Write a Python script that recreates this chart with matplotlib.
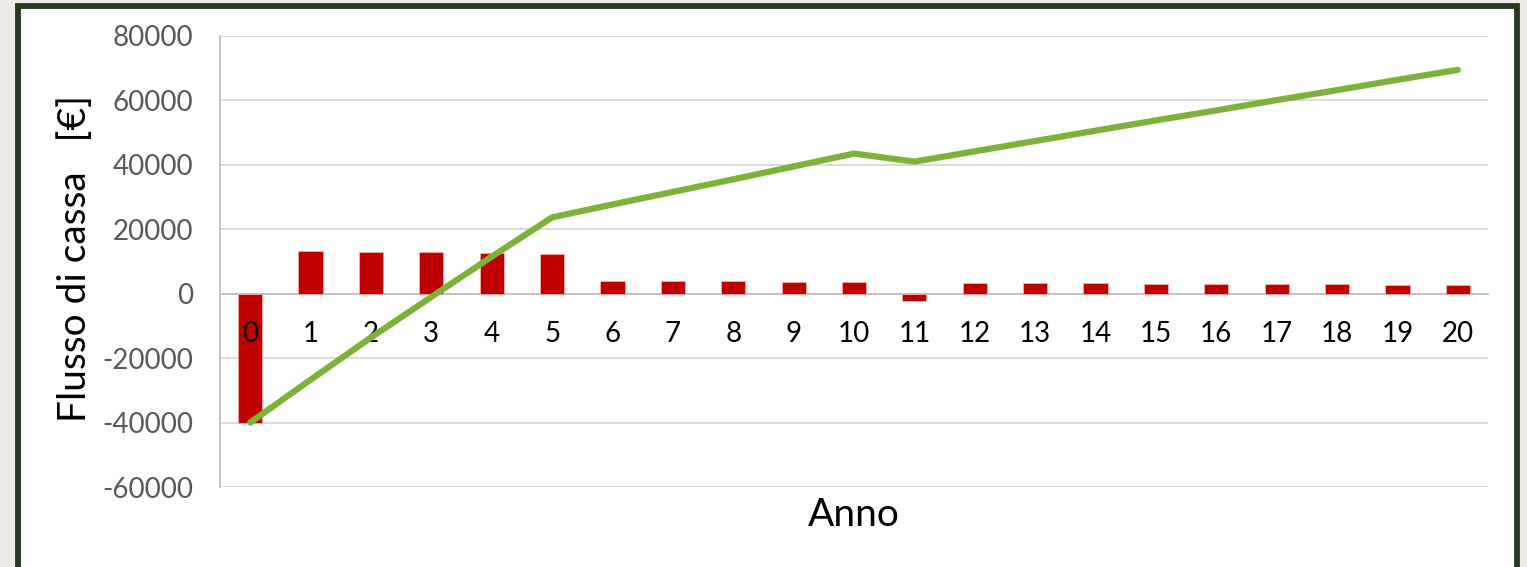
import numpy as np
import matplotlib.pyplot as plt
from matplotlib.patches import Rectangle

# Annual cash flow and cumulative cash flow (EUR)
anni = list(range(21))
flusso_annuo = [-40000, 13400, 13100, 12800, 12500, 12200, 4100, 4000, 3800, 3700,
                3600, -2400, 3400, 3300, 3200, 3100, 3000, 3000, 2900, 2800, 2700]
flusso_cumulato = [-40000, -26700, -13600, -1000, 11500, 23700, 27700, 31600, 35500,
                   39500, 43500, 41000, 44200, 47400, 50600, 53800, 56900, 60100,
                   63200, 66400, 69500]
yticks = [-60000, -40000, -20000, 0, 20000, 40000, 60000, 80000]

plt.rcParams['font.family'] = ['Lato', 'DejaVu Sans']

W, H = 1527, 567
fig = plt.figure(figsize=(W / 100, H / 100), dpi=100)
fig.patch.set_facecolor('#EEEBE9')

# white card with dark green border, behind the chart
bg = fig.add_axes([0, 0, 1, 1], zorder=-1)
bg.set_xlim(0, W)
bg.set_ylim(H, 0)
bg.axis('off')
bg.add_patch(Rectangle((18, 6), 1499, H + 20, facecolor='white',
                       edgecolor='#253A21', linewidth=4.2))

ax = fig.add_axes([220 / W, 1 - 487 / H, 1268 / W, 451 / H], zorder=1)
ax.set_facecolor('none')

ax.bar(anni, flusso_annuo, width=0.4, color='#C00000', edgecolor='#F0B0B0',
       linewidth=0.6, zorder=3)
ax.plot(anni, flusso_cumulato, color='#7DB23A', linewidth=4.5,
        solid_capstyle='round', solid_joinstyle='round', zorder=4)

ax.set_xlim(-0.5, 20.5)
ax.set_ylim(-60000, 80000)
ax.set_yticks(yticks)
ax.set_yticklabels([str(v) for v in yticks])
ax.set_xticks(anni)
ax.set_xticklabels([str(a) for a in anni])

ax.grid(axis='y', color='#D9D9D9', linewidth=1.3, zorder=0)
ax.set_axisbelow(True)
# year labels sit on top of the bars
ax.xaxis.set_zorder(3.5)
for s in ['top', 'right']:
    ax.spines[s].set_visible(False)
ax.spines['left'].set_color('#BFBFBF')
ax.spines['left'].set_linewidth(1.3)
ax.spines['bottom'].set_position(('data', 0))
ax.spines['bottom'].set_color('#BFBFBF')
ax.spines['bottom'].set_linewidth(1.3)
ax.spines['bottom'].set_zorder(2)

ax.tick_params(axis='y', length=0, pad=19, labelsize=20, labelcolor='#595959')
ax.tick_params(axis='x', length=0, pad=20, labelsize=20, labelcolor='#000000')

fig.text(75 / W, 1 - 258 / H, 'Flusso di cassa   [€]', rotation=90,
         ha='center', va='center', fontsize=28, color='#000000')
fig.text(854 / W, 1 - 515 / H, 'Anno', ha='center', va='center',
         fontsize=28, color='#000000')

fig.savefig('out.png', dpi=100)
